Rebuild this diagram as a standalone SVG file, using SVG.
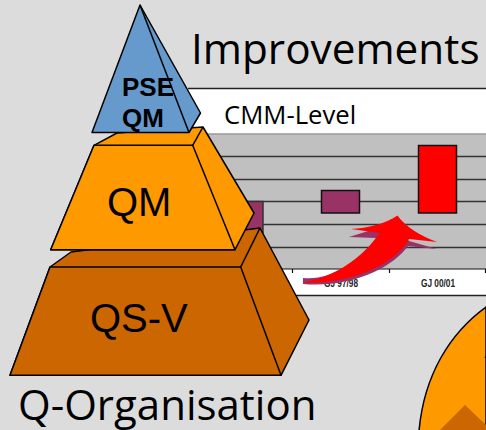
<svg xmlns="http://www.w3.org/2000/svg" width="486" height="430" viewBox="0 0 486 430">
<style>
.s{stroke:#000;stroke-width:1.5;stroke-linejoin:round}
.o{fill:#ff9900}.b{fill:#cc6600}.p{fill:#6699cc}
.h{font-family:"Open Sans","Noto Sans",sans-serif;fill:#000}
.a{font-family:"Liberation Sans",Arial,sans-serif;fill:#000}
.g{stroke:#333;stroke-width:1.3;fill:none}
.t{font-family:"Liberation Sans",Arial,sans-serif;font-weight:bold;font-size:10px;fill:#222}
</style>
<rect width="486" height="430" fill="#dcdcdc"/>
<g id="chart">
<rect x="188" y="89" width="298" height="207" fill="#fff"/>
<path d="M188 88.500H486" stroke="#222" stroke-width="1.500" fill="none"/>
<path d="M188 295.500H486" stroke="#222" stroke-width="1.300" fill="none"/>
<rect x="188" y="134" width="298" height="135" fill="#c0c0c0"/>
<path d="M188 134H486" stroke="#999" stroke-width="1.500" fill="none"/>
<path class="g" d="M188 156.500H486M188 179.500H486M188 201.500H486M188 224.500H486M188 247.500H486"/>
<path d="M188 269H486M292.500 269V273M389.500 269V273M485.500 269V273" stroke="#111" stroke-width="1.200" fill="none"/>
<rect x="225" y="201.500" width="38" height="31" fill="#993366" stroke="#333" stroke-width="1.500"/>
<rect x="321.500" y="190.500" width="38" height="22.500" fill="#993366" stroke="#111" stroke-width="1.500"/>
<rect x="418.500" y="145.500" width="38" height="67.500" fill="#ff0000" stroke="#111" stroke-width="1.500"/>
<text class="t" x="324" y="287" textLength="34" lengthAdjust="spacingAndGlyphs">GJ 97/98</text>
<text class="t" x="421" y="287" textLength="34" lengthAdjust="spacingAndGlyphs">GJ 00/01</text>
<text class="h" x="224" y="124" font-size="25.700">CMM-Level</text>
</g>
<g id="title"><text class="h" x="191" y="64" font-size="42.300">Improvements</text></g>
<g id="connectors">
<path d="M303 278 C330 281 358 262 376 238 L349 237 L397 222 L409 241 L437 249 L408 246 C392 268 352 288 303 284 Z" fill="#993366"/>
<path d="M303 282.500 C335 277 362 258 380 233 L351 229 C368 228 385 224 397.500 215.500 C405 226 420 236 437 242 L409 239 C396 264 350 285 303 282.500 Z" fill="#ff0000"/>
</g>
<g id="circle">
<path d="M486 307 C450 333 424 375 419 431 H486 Z" class="o" stroke="#000" stroke-width="1.500"/>
<path d="M465 405 L486 425 V431 H439 Z" class="b"/>
<path d="M486 355 L484.500 358 H486 Z" fill="#000"/>
</g>
<g id="qsv">
<path class="s b" d="M50 267 L71 252 L260 228 L309 320 L281 375.300 H10 Z"/>
<path class="s b" d="M50 267 H240.700 L281 375.300 H10 Z"/>
<path class="s" fill="none" d="M240.700 267 L260 228"/>
<text class="a" x="90" y="332" font-size="40">QS-V</text>
</g>
<g id="qm">
<path class="s o" d="M94 145.300 L117 133 L203 127 L254 213 L235 249.700 H50.700 Z"/>
<path class="s o" d="M94 145.300 H192.700 L235 249.700 H50.700 Z"/>
<path class="s" fill="none" d="M192.700 145.300 L203 127"/>
<text class="a" x="107" y="216" font-size="40">QM</text>
</g>
<g id="pse">
<path class="s p" d="M140 5 L200.500 113 L189 132.500 H92 Z"/>
<path class="s" fill="none" d="M140 5 L189 132.500"/>
<text class="a" x="122" y="96" font-size="26" font-weight="bold">PSE</text>
<text class="a" x="122" y="127" font-size="26" font-weight="bold">QM</text>
</g>
<g id="caption"><text class="h" x="18" y="419.500" font-size="42">Q-Organisation</text></g>
</svg>
